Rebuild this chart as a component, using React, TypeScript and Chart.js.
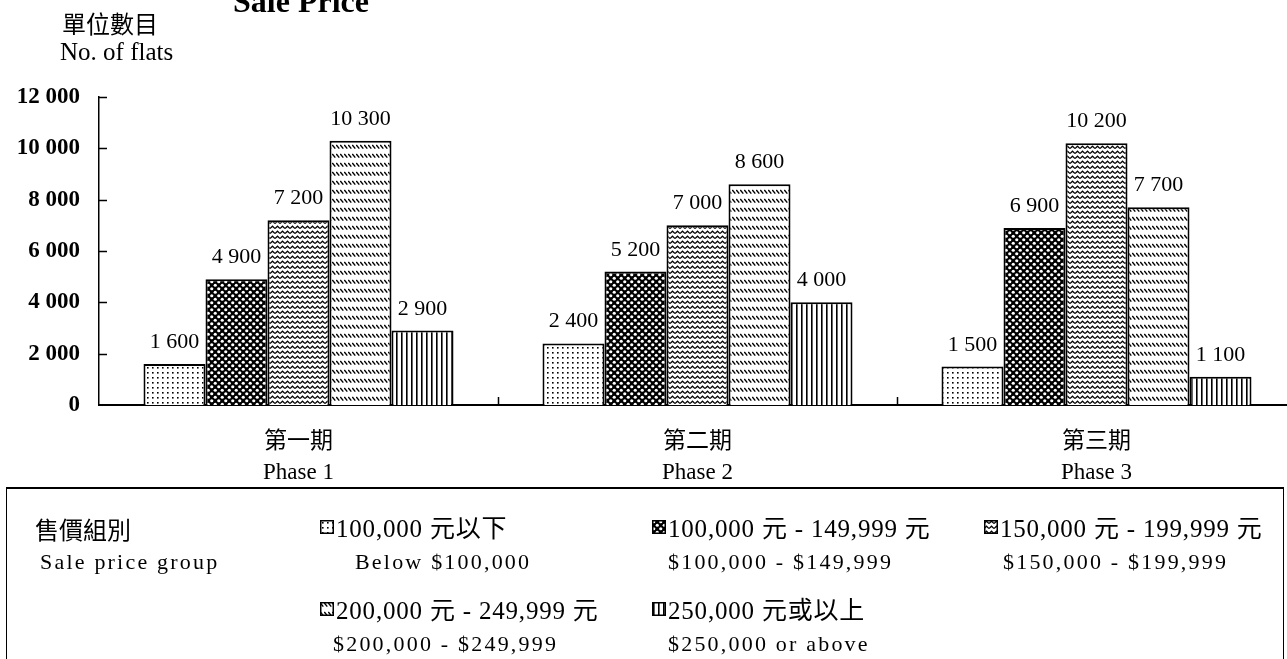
import { useEffect, useRef } from 'react';
import { Chart, registerables } from 'chart.js';

Chart.register(...registerables);

// Categories (two-line axis labels)
const phases: string[][] = [
  ['第一期', 'Phase 1'],
  ['第二期', 'Phase 2'],
  ['第三期', 'Phase 3'],
];

// Number of flats per sale price group, one value per phase
const below100k = [1600, 2400, 1500];
const from100kTo149k = [4900, 5200, 6900];
const from150kTo199k = [7200, 7000, 10200];
const from200kTo249k = [10300, 8600, 7700];
const from250k = [2900, 4000, 1100];

const yTicks = [0, 2000, 4000, 6000, 8000, 10000, 12000];

const groupCn = ['100,000 元以下', '100,000 元 - 149,999 元', '150,000 元 - 199,999 元', '200,000 元 - 249,999 元', '250,000 元或以上'];
const groupEn = ['Below $100,000', '$100,000 - $149,999', '$150,000 - $199,999', '$200,000 - $249,999', '$250,000 or above'];
const patternKinds = ['dots', 'holes', 'zigzag', 'hatch', 'vlines'];
const seriesValues = [below100k, from100kTo149k, from150kTo199k, from200kTo249k, from250k];

const SERIF = "'Liberation Serif', 'Times New Roman', 'Noto Sans CJK TC', serif";
const CANVAS_W = 1296;
const CANVAS_H = 488;
const PLOT_TOP = 97;
const PLOT_BOTTOM = 405;
const PLOT_LEFT = 99;

const fmt = (v: number) => String(v).replace(/\B(?=(\d{3})+(?!\d))/g, ' ');

// Small monochrome tiles used as bar fills
function makeTile(kind: string): HTMLCanvasElement {
  const sizes: Record<string, [number, number]> = {
    dots: [5, 5],
    holes: [7, 7],
    zigzag: [5, 5],
    hatch: [4, 9],
    vlines: [5, 4],
  };
  const [w, h] = sizes[kind];
  const c = document.createElement('canvas');
  c.width = w;
  c.height = h;
  const g = c.getContext('2d')!;
  g.fillStyle = '#fff';
  g.fillRect(0, 0, w, h);
  g.fillStyle = '#000';
  g.strokeStyle = '#000';
  switch (kind) {
    case 'dots':
      g.fillRect(2, 2, 1.6, 1.6);
      break;
    case 'holes':
      g.fillRect(0, 0, w, h);
      g.fillStyle = '#fff';
      g.beginPath();
      g.arc(1.75, 1.75, 1.6, 0, Math.PI * 2);
      g.fill();
      g.beginPath();
      g.arc(5.25, 5.25, 1.6, 0, Math.PI * 2);
      g.fill();
      break;
    case 'zigzag':
      g.lineWidth = 1.2;
      g.beginPath();
      g.moveTo(0, 3.6);
      g.lineTo(2.5, 1.2);
      g.lineTo(5, 3.6);
      g.stroke();
      break;
    case 'hatch':
      g.lineWidth = 1.4;
      g.beginPath();
      g.moveTo(0.3, 1);
      g.lineTo(3.3, 4.6);
      g.stroke();
      break;
    case 'vlines':
      g.fillRect(1, 0, 1.6, h);
      break;
  }
  return c;
}

function makePattern(ctx: CanvasRenderingContext2D, kind: string): CanvasPattern {
  return ctx.createPattern(makeTile(kind), 'repeat')!;
}

function Swatch({ kind }: { kind: string }) {
  const ref = useRef<HTMLCanvasElement>(null);
  useEffect(() => {
    const c = ref.current;
    if (!c) return;
    const g = c.getContext('2d')!;
    g.clearRect(0, 0, c.width, c.height);
    g.fillStyle = makePattern(g, kind);
    g.fillRect(0, 0, c.width, c.height);
    g.strokeStyle = '#000';
    g.lineWidth = 1.5;
    g.strokeRect(0.75, 0.75, c.width - 1.5, c.height - 1.5);
  }, [kind]);
  return <canvas ref={ref} width={14} height={14} style={{ display: 'block' }} />;
}

// Inward tick marks on the value axis and category separators on the base line
const axisTicks = {
  id: 'axisTicks',
  afterDraw(chart: any) {
    const { ctx, scales } = chart;
    const y = scales.y;
    const x = scales.x;
    ctx.save();
    ctx.strokeStyle = '#000';
    ctx.lineWidth = 1.5;
    ctx.beginPath();
    for (const v of yTicks) {
      if (v === 0) continue;
      const py = Math.round(y.getPixelForValue(v)) + 0.5;
      ctx.moveTo(x.left, py);
      ctx.lineTo(x.left + 8, py);
    }
    for (let i = 0; i < phases.length - 1; i++) {
      const px = Math.round((x.getPixelForTick(i) + x.getPixelForTick(i + 1)) / 2) + 0.5;
      ctx.moveTo(px, y.bottom);
      ctx.lineTo(px, y.bottom - 8);
    }
    ctx.stroke();
    ctx.restore();
  },
};

// Value printed above every bar
const valueLabels = {
  id: 'valueLabels',
  afterDatasetsDraw(chart: any) {
    const { ctx } = chart;
    ctx.save();
    ctx.fillStyle = '#000';
    ctx.font = `22px ${SERIF}`;
    ctx.textAlign = 'center';
    ctx.textBaseline = 'alphabetic';
    chart.data.datasets.forEach((ds: any, di: number) => {
      const meta = chart.getDatasetMeta(di);
      meta.data.forEach((bar: any, i: number) => {
        ctx.fillText(fmt(ds.data[i]), bar.x, bar.y - 16);
      });
    });
    ctx.restore();
  },
};

function BarChart() {
  const ref = useRef<HTMLCanvasElement>(null);
  useEffect(() => {
    const canvas = ref.current;
    if (!canvas) return;
    const ctx = canvas.getContext('2d')!;
    const chart = new Chart(ctx, {
      type: 'bar',
      data: {
        labels: phases,
        datasets: seriesValues.map((vals, i) => ({
          label: groupEn[i],
          data: vals,
          backgroundColor: makePattern(ctx, patternKinds[i]),
          borderColor: '#000',
          borderWidth: 2,
          categoryPercentage: 0.777,
          barPercentage: 1,
        })),
      },
      options: {
        animation: false,
        responsive: false,
        maintainAspectRatio: false,
        layout: { padding: { top: PLOT_TOP, right: 0, bottom: 0, left: 0 } },
        plugins: {
          legend: { display: false },
          tooltip: { enabled: false },
          title: { display: false },
        },
        scales: {
          x: {
            grid: { display: false, drawTicks: false },
            border: { display: true, color: '#000', width: 2 },
            ticks: {
              color: '#000',
              padding: 21,
              font: { family: SERIF, size: 23, lineHeight: 1.35 },
              maxRotation: 0,
              autoSkip: false,
            },
            afterFit: (s: any) => {
              s.height = CANVAS_H - PLOT_BOTTOM;
            },
          },
          y: {
            min: 0,
            max: 12000,
            afterBuildTicks: (s: any) => {
              s.ticks = yTicks.map((v) => ({ value: v }));
            },
            grid: { display: false, drawTicks: false },
            border: { display: true, color: '#000', width: 1.5 },
            ticks: {
              color: '#000',
              padding: 19,
              font: { family: SERIF, size: 23, weight: 'bold' },
              callback: (v: any) => fmt(Number(v)),
            },
            afterFit: (s: any) => {
              s.width = PLOT_LEFT;
            },
          },
        },
      },
      plugins: [axisTicks, valueLabels],
    } as any);
    return () => chart.destroy();
  }, []);
  return (
    <canvas
      ref={ref}
      width={CANVAS_W}
      height={CANVAS_H}
      style={{ position: 'absolute', left: 0, top: 0, width: CANVAS_W, height: CANVAS_H }}
    />
  );
}

const cnText: React.CSSProperties = {
  position: 'absolute',
  fontFamily: SERIF,
  fontSize: 25,
  lineHeight: '26px',
  letterSpacing: 0.8,
  whiteSpace: 'nowrap',
  color: '#000',
};
const enText: React.CSSProperties = {
  position: 'absolute',
  fontFamily: SERIF,
  fontSize: 22,
  lineHeight: '26px',
  letterSpacing: 2.2,
  whiteSpace: 'nowrap',
  color: '#000',
};

// Legend slots: [icon left, cjk row top, english left]
const legendSlots: [number, number, number][] = [
  [320, 516, 355],
  [652, 516, 668],
  [984, 516, 1003],
  [320, 598, 333],
  [652, 598, 668],
];

function Legend() {
  return (
    <div style={{ position: 'absolute', left: 0, top: 0, width: 1287, height: 659 }}>
      <div
        style={{
          position: 'absolute',
          left: 6,
          top: 487,
          width: 1276,
          height: 200,
          borderTop: '2.5px solid #000',
          borderLeft: '1.5px solid #000',
          borderRight: '1.5px solid #000',
        }}
      />
      <div style={{ ...cnText, left: 35, top: 516, fontFamily: "'Noto Sans CJK TC', sans-serif", fontSize: 24, letterSpacing: 0 }}>售價組別</div>
      <div style={{ ...enText, left: 40, top: 549 }}>Sale price group</div>
      {legendSlots.map(([ix, ty, ex], i) => (
        <div key={i}>
          <div style={{ position: 'absolute', left: ix, top: ty + 4 }}>
            <Swatch kind={patternKinds[i]} />
          </div>
          <div style={{ ...cnText, left: ix + 16, top: ty }}>{groupCn[i]}</div>
          <div style={{ ...enText, left: ex, top: ty + 33 }}>{groupEn[i]}</div>
        </div>
      ))}
    </div>
  );
}

export default function App() {
  return (
    <div
      style={{
        position: 'absolute',
        left: 0,
        top: 0,
        width: 1287,
        height: 659,
        overflow: 'hidden',
        background: '#fff',
      }}
    >
      <BarChart />
      <div
        style={{
          position: 'absolute',
          left: 233,
          top: -15,
          fontFamily: SERIF,
          fontWeight: 'bold',
          fontSize: 32,
          lineHeight: '32px',
          whiteSpace: 'nowrap',
        }}
      >
        Sale Price
      </div>
      <div
        style={{
          position: 'absolute',
          left: 62,
          top: 11,
          fontFamily: "'Noto Sans CJK TC', sans-serif",
          fontSize: 24,
          lineHeight: '24px',
          whiteSpace: 'nowrap',
        }}
      >
        單位數目
      </div>
      <div
        style={{
          position: 'absolute',
          left: 60,
          top: 40,
          fontFamily: SERIF,
          fontSize: 25,
          lineHeight: '24px',
          whiteSpace: 'nowrap',
        }}
      >
        No. of flats
      </div>
      <Legend />
    </div>
  );
}
